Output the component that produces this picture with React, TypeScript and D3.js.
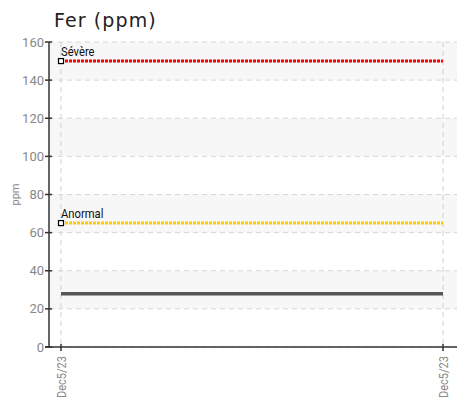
import React from "react";
import * as d3 from "d3";

const title = "Fer (ppm)";
const yLabel = "ppm";
const dates = ["Dec5/23", "Dec5/23"];
const values = [28, 28];
const yTicks = [0, 20, 40, 60, 80, 100, 120, 140, 160];
const limits = [
  { name: "Sévère", value: 150, color: "#ff0000" },
  { name: "Anormal", value: 65, color: "#ffcc00" },
];

const W = 457;
const H = 402;
const plotLeft = 49;
const plotRight = 457;
const plotTop = 42;
const plotBottom = 347;

export default function App() {
  const y = d3.scaleLinear().domain([0, 160]).range([plotBottom, plotTop]);
  const x = d3.scaleLinear().domain([0, dates.length - 1]).range([61, 443]);
  const idx = dates.map((_, i) => i);
  const line = d3
    .line<number>()
    .x((_, i) => x(i))
    .y((d) => y(d));
  const tickFont = "'Roboto', sans-serif";
  const bands = yTicks.slice(0, -1).filter((_, i) => i % 2 === 1);

  return (
    <svg
      width={W}
      height={H}
      style={{ position: "absolute", left: 0, top: 0, background: "#fff" }}
      fontFamily="Roboto, sans-serif"
    >
      {bands.map((b) => (
        <rect
          key={b}
          x={plotLeft}
          y={y(b + 20)}
          width={plotRight - plotLeft}
          height={y(b) - y(b + 20)}
          fill="#f7f7f7"
        />
      ))}
      {yTicks.map((t) => (
        <line
          key={"g" + t}
          x1={plotLeft}
          x2={plotRight}
          y1={y(t)}
          y2={y(t)}
          stroke="#d6d6d6"
          strokeDasharray="5,4"
        />
      ))}
      {idx.map((i) => (
        <line
          key={"v" + i}
          x1={x(i)}
          x2={x(i)}
          y1={plotTop}
          y2={plotBottom}
          stroke="#d0d0d0"
          strokeDasharray="5,4"
        />
      ))}
      <text
        x={54}
        y={27}
        fontSize={19}
        letterSpacing={1.1}
        fill="#222"
        fontFamily="'DejaVu Sans', sans-serif"
      >
        {title}
      </text>
      <text
        transform={`translate(19,${(plotTop + plotBottom) / 2}) rotate(-90)`}
        textAnchor="middle"
        fontSize={11}
        fill="#888"
        fontFamily={tickFont}
      >
        {yLabel}
      </text>
      {limits.map((l) => (
        <g key={l.name}>
          <line
            x1={x(0)}
            x2={x(dates.length - 1)}
            y1={y(l.value)}
            y2={y(l.value)}
            stroke={l.color}
            strokeWidth={3}
            strokeDasharray="3,1"
          />
          <rect
            x={x(0) - 2.5}
            y={y(l.value) - 2.5}
            width={5}
            height={5}
            fill="#fff"
            stroke="#000"
            strokeWidth={1.2}
          />
          <text
            transform={`translate(${x(0)},${y(l.value) - 5}) scale(0.9,1)`}
            fontSize={12.5}
            fill="#111"
            fontFamily={tickFont}
          >
            {l.name}
          </text>
        </g>
      ))}
      <path
        d={line(values) || ""}
        fill="none"
        stroke="#555"
        strokeWidth={3.5}
      />
      <line
        x1={plotLeft}
        x2={plotLeft}
        y1={plotTop}
        y2={plotBottom}
        stroke="#333"
        strokeWidth={1.5}
      />
      <line
        x1={plotLeft - 4}
        x2={plotRight}
        y1={plotBottom}
        y2={plotBottom}
        stroke="#333"
        strokeWidth={1.5}
      />
      {yTicks.map((t) => (
        <g key={"t" + t}>
          <line
            x1={plotLeft - 4}
            x2={plotLeft + 3}
            y1={y(t)}
            y2={y(t)}
            stroke="#333"
            strokeWidth={1.5}
          />
          <text
            x={plotLeft - 5}
            y={y(t)}
            dy="0.35em"
            textAnchor="end"
            fontSize={13}
            fill="#888"
            fontFamily={tickFont}
          >
            {t}
          </text>
        </g>
      ))}
      {dates.map((d, i) => (
        <g key={"x" + i}>
          <line
            x1={x(i)}
            x2={x(i)}
            y1={plotBottom - 3}
            y2={plotBottom + 4}
            stroke="#333"
            strokeWidth={1.5}
          />
          <text
            transform={`translate(${x(i)},${plotBottom + 9}) rotate(-90) scale(0.85,1)`}
            textAnchor="end"
            dy="0.35em"
            fontSize={13}
            fill="#888"
            fontFamily={tickFont}
          >
            {d}
          </text>
        </g>
      ))}
    </svg>
  );
}
